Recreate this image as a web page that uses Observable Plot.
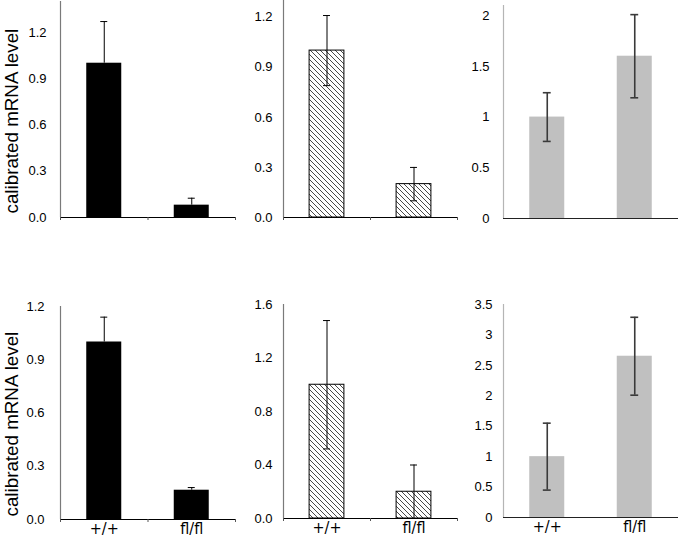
<!DOCTYPE html>
<html><head><meta charset="utf-8">
<script src="https://cdn.jsdelivr.net/npm/d3@7"></script>
<script src="https://cdn.jsdelivr.net/npm/@observablehq/plot@0.6"></script>
<style>
body{margin:0;background:#fff;}
#chart{position:relative;width:680px;height:538px;overflow:hidden;background:#fff;}
#chart svg{position:absolute;overflow:visible;}
</style></head><body><div id="chart"></div>
<script>
// ---- data ----
const genotypes = ["+/+", "fl/fl"];
const yTitle = "calibrated mRNA level";

const topBlackValues = [1.0, 0.08];
const topBlackErrors = [0.27, 0.045];
const topHatchValues = [1.0, 0.2];
const topHatchErrors = [0.21, 0.1];
const topGreyValues = [1.0, 1.6];
const topGreyErrors = [0.24, 0.41];

const botBlackValues = [1.0, 0.165];
const botBlackErrors = [0.14, 0.015];
const botHatchValues = [1.0, 0.2];
const botHatchErrors = [0.48, 0.2];
const botGreyValues = [1.0, 2.65];
const botGreyErrors = [0.55, 0.64];

const ticksA = [0, 0.3, 0.6, 0.9, 1.2];
const ticksB = [0, 0.5, 1, 1.5, 2];
const ticksC = [0, 0.4, 0.8, 1.2, 1.6];
const ticksD = [0, 0.5, 1, 1.5, 2, 2.5, 3, 3.5];

// ---- drawing ----
const fmt1 = d3.format(".1f");
const fmtPlain = d => String(d);

function hatchDefs(id) {
  return () => {
    const defs = d3.create("svg:defs");
    const p = defs.append("pattern").attr("id", id)
      .attr("patternUnits", "userSpaceOnUse").attr("width", 5).attr("height", 5);
    p.append("rect").attr("width", 5).attr("height", 5).attr("fill", "white");
    p.append("path").attr("d", "M-1,-1L6,6M-1,4L1,6M4,-1L6,1")
      .attr("stroke", "#1a1a1a").attr("stroke-width", 0.8).attr("fill", "none");
    return defs.node();
  };
}

function panel(cfg) {
  const data = cfg.values.map((v, i) => ({i, v, e: cfg.errors[i]}));
  const kind = cfg.kind;
  const marks = [];
  if (kind === "hatch") marks.push(hatchDefs(cfg.id));
  const fill = kind === "black" ? "black" : kind === "hatch" ? `url(#${cfg.id})` : "#c0c0c0";
  marks.push(Plot.rectY(data, {
    x1: d => d.i + 0.3, x2: d => d.i + 0.7, y1: 0, y2: d => d.v,
    fill, stroke: kind === "hatch" ? "black" : "none", strokeWidth: 1
  }));
  const lo = kind === "black" ? (d => d.v) : (d => d.v - d.e);
  const hi = d => d.v + d.e;
  const eColor = kind === "grey" ? "#3a3a3a" : "black";
  const eWidth = kind === "grey" ? 1.6 : 1;
  const cap = kind === "grey" ? 0.045 : 0.04;
  marks.push(Plot.ruleX(data, {x: d => d.i + 0.5, y1: lo, y2: hi, stroke: eColor, strokeWidth: eWidth}));
  marks.push(Plot.ruleY(data, {y: hi, x1: d => d.i + 0.5 - cap, x2: d => d.i + 0.5 + cap, stroke: eColor, strokeWidth: eWidth}));
  if (kind !== "black") {
    marks.push(Plot.ruleY(data, {y: lo, x1: d => d.i + 0.5 - cap, x2: d => d.i + 0.5 + cap, stroke: eColor, strokeWidth: eWidth}));
  }
  // axes
  marks.push(Plot.ruleX([0], {stroke: kind === "grey" ? "#b5b5b5" : "#7a7a7a", strokeWidth: 1.2}));
  marks.push(Plot.axisY({ticks: cfg.ticks, tickFormat: cfg.fmt, tickSize: 0, tickPadding: cfg.pad, fontSize: 13, label: null}));
  marks.push(Plot.ruleY([0], {stroke: kind === "grey" ? "#222" : "black", strokeWidth: 1.2}));
  if (kind !== "grey") {
    marks.push(Plot.axisX({ticks: [0, 1, 2], tickSize: 3, tickFormat: () => "", label: null, stroke: "#555"}));
  }
  if (cfg.labels) {
    marks.push(Plot.axisX({ticks: [0.5, 1.5], tickSize: 0, tickPadding: 3, tickFormat: d => genotypes[Math.floor(d)],
      label: null, fontSize: 16, fontFamily: "'Liberation Sans Narrow', 'DejaVu Sans Condensed', sans-serif"}));
  } else if (kind === "grey") {
    marks.push(Plot.axisX({ticks: [], label: null}));
  }
  if (cfg.title) {
    marks.push(Plot.text([yTitle], {text: d => d, frameAnchor: "bottom-left", textAnchor: "start",
      lineAnchor: "bottom", rotate: -90, dx: -43, dy: cfg.titleDy, fontSize: 18.8, fill: "black"}));
  }
  const svg = Plot.plot({
    width: cfg.w, height: cfg.h,
    marginLeft: cfg.mL, marginRight: cfg.mR, marginTop: cfg.mT, marginBottom: cfg.mB,
    x: {domain: [0, 2]},
    y: {domain: [0, cfg.ymax]},
    style: {fontFamily: "'Liberation Sans', Arial, sans-serif", fontSize: "13px", color: "black", background: "transparent", overflow: "visible"},
    marks
  });
  svg.style.left = cfg.left + "px";
  svg.style.top = cfg.top + "px";
  document.getElementById("chart").appendChild(svg);
}

panel({values: topBlackValues, errors: topBlackErrors, kind: "black", ticks: ticksA, fmt: fmt1, pad: 14,
  left: 0, top: 0, w: 240, h: 240, mL: 60, mR: 5, mT: 1, mB: 23, ymax: 1.4, title: true, titleDy: -4});
panel({values: topHatchValues, errors: topHatchErrors, kind: "hatch", id: "hatchA", ticks: ticksA, fmt: fmt1, pad: 11,
  left: 240, top: 0, w: 222, h: 240, mL: 43, mR: 5, mT: 0, mB: 23, ymax: 1.3});
panel({values: topGreyValues, errors: topGreyErrors, kind: "grey", ticks: ticksB, fmt: fmtPlain, pad: 14,
  left: 462, top: 0, w: 218, h: 240, mL: 41, mR: 2, mT: 5, mB: 22, ymax: 2.1});
panel({values: botBlackValues, errors: botBlackErrors, kind: "black", ticks: ticksA, fmt: fmt1, pad: 16,
  left: 0, top: 240, w: 240, h: 298, mL: 60, mR: 5, mT: 66, mB: 19, ymax: 1.2, title: true, titleDy: -3, labels: true});
panel({values: botHatchValues, errors: botHatchErrors, kind: "hatch", id: "hatchB", ticks: ticksC, fmt: fmt1, pad: 11,
  left: 240, top: 240, w: 222, h: 298, mL: 43, mR: 5, mT: 64, mB: 20, ymax: 1.6, labels: true});
panel({values: botGreyValues, errors: botGreyErrors, kind: "grey", ticks: ticksD, fmt: fmtPlain, pad: 11,
  left: 462, top: 240, w: 218, h: 298, mL: 41, mR: 2, mT: 64, mB: 21, ymax: 3.5, labels: true});
</script>
</body></html>
